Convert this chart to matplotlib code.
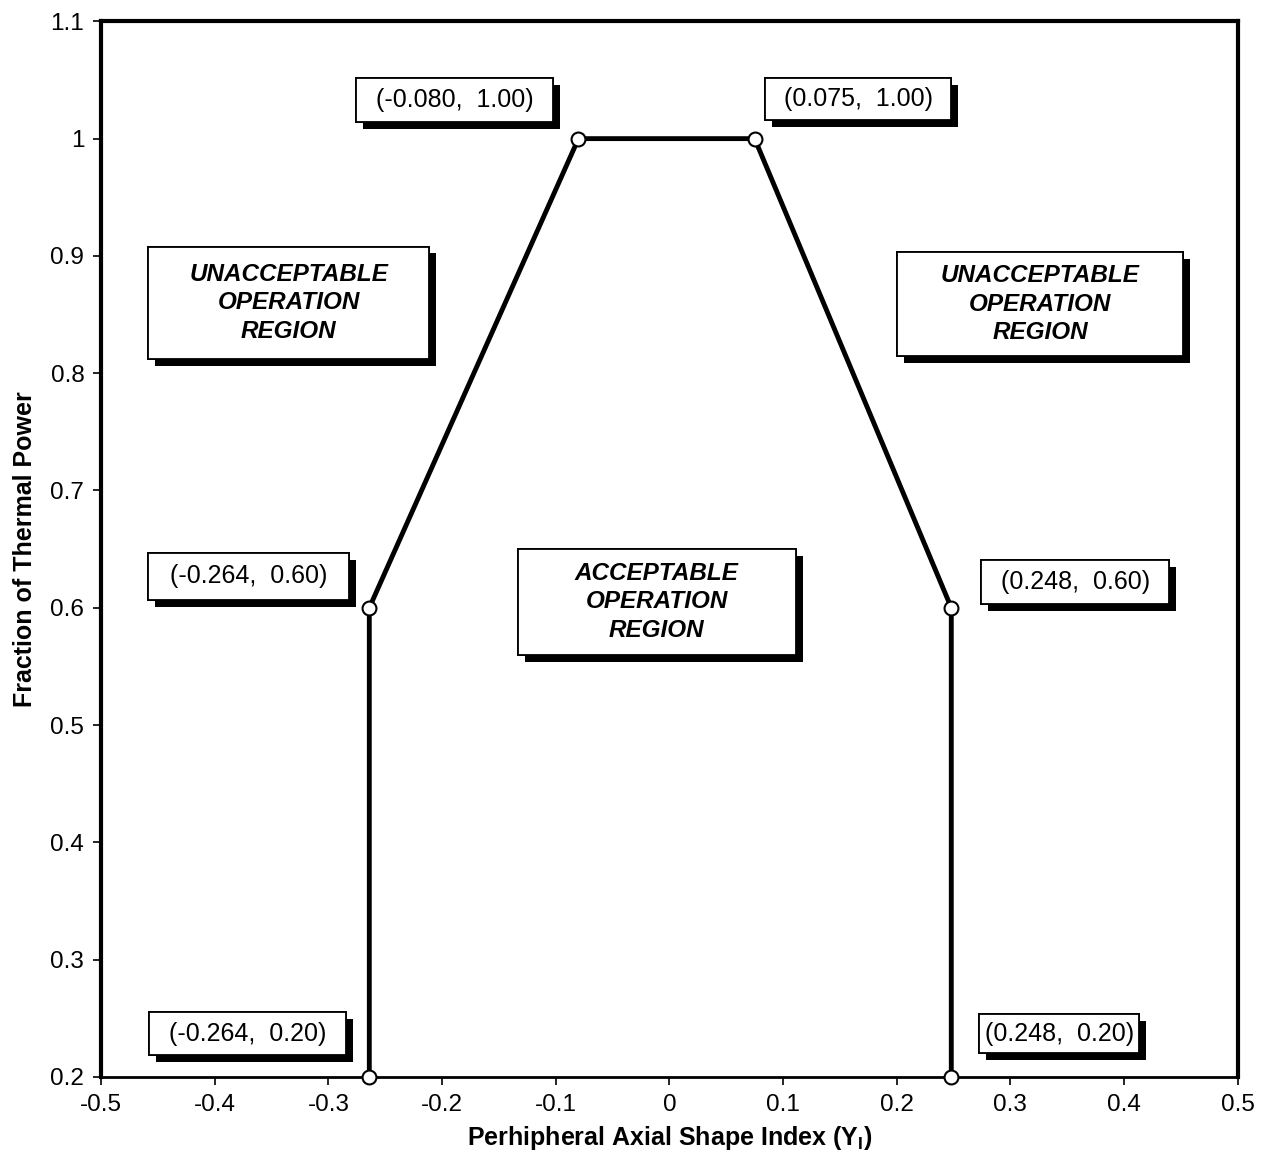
import matplotlib
matplotlib.use('Agg')
import matplotlib.pyplot as plt
import matplotlib.patheffects as pe
from matplotlib.patches import Rectangle

plt.rcParams['font.family'] = ['Liberation Sans', 'DejaVu Sans']

# limit curve vertices
asi = [-0.264, -0.264, -0.080, 0.075, 0.248, 0.248]
power = [0.20, 0.60, 1.00, 1.00, 0.60, 0.20]

xticks = [-0.5, -0.4, -0.3, -0.2, -0.1, 0, 0.1, 0.2, 0.3, 0.4, 0.5]
xticklabels = ['-0.5', '-0.4', '-0.3', '-0.2', '-0.1', '0', '0.1', '0.2', '0.3', '0.4', '0.5']
yticks = [0.2, 0.3, 0.4, 0.5, 0.6, 0.7, 0.8, 0.9, 1.0, 1.1]
yticklabels = ['0.2', '0.3', '0.4', '0.5', '0.6', '0.7', '0.8', '0.9', '1', '1.1']

# label boxes: centre and size (data coords)
pt_label_pos = [(-0.371, 0.237), (-0.370, 0.627), (-0.189, 1.033),
                (0.166, 1.034), (0.357, 0.622), (0.343, 0.237)]
pt_label_size = [(0.173, 0.037), (0.177, 0.040), (0.174, 0.038),
                 (0.163, 0.036), (0.165, 0.038), (0.141, 0.034)]
region_labels = ['UNACCEPTABLE\nOPERATION\nREGION',
                 'ACCEPTABLE\nOPERATION\nREGION',
                 'UNACCEPTABLE\nOPERATION\nREGION']
region_pos = [(-0.335, 0.860), (-0.011, 0.605), (0.326, 0.859)]
region_size = [(0.247, 0.096), (0.245, 0.090), (0.251, 0.088)]

fig = plt.figure(figsize=(12.63, 11.6), dpi=100)
ax = fig.add_axes([0.080, 0.0716, 0.900, 0.910])

ax.plot(asi, power, color='black', linewidth=3.5, marker='o', markersize=10,
        markerfacecolor='white', markeredgecolor='black', markeredgewidth=1.5,
        clip_on=False, zorder=5)

shadow = [pe.withSimplePatchShadow(offset=(5, -5), shadow_rgbFace='black', alpha=1.0), pe.Normal()]


def boxed(cx, cy, w, h):
    r = Rectangle((cx - w / 2, cy - h / 2), w, h, facecolor='white',
                  edgecolor='black', linewidth=1.3, zorder=6, path_effects=shadow)
    ax.add_patch(r)


for (x, y), (lx, ly), (w, h) in zip(zip(asi, power), pt_label_pos, pt_label_size):
    boxed(lx, ly, w, h)
    ax.text(lx, ly, f'({x:.3f},  {y:.2f})', ha='center', va='center', fontsize=18, zorder=7)

for txt, (lx, ly), (w, h) in zip(region_labels, region_pos, region_size):
    boxed(lx, ly, w, h)
    ax.text(lx, ly, txt, ha='center', va='center', fontsize=17.5,
            fontweight='bold', fontstyle='italic', linespacing=1.3, zorder=7)

ax.set_xlim(-0.5, 0.5)
ax.set_ylim(0.2, 1.1)
ax.set_xticks(xticks)
ax.set_xticklabels(xticklabels, fontsize=17.5)
ax.set_yticks(yticks)
ax.set_yticklabels(yticklabels, fontsize=17.5)
ax.tick_params(direction='out', length=6, width=1.2, pad=6)

for side in ['left', 'top', 'right']:
    ax.spines[side].set_linewidth(3)
ax.spines['bottom'].set_linewidth(2)

ax.set_xlabel('Perhipheral Axial Shape Index (Y$_\\mathregular{I}$)', fontsize=18,
              fontweight='bold', labelpad=6)
ax.set_ylabel('Fraction of Thermal Power', fontsize=18, fontweight='bold', labelpad=10)

fig.savefig('out.png', dpi=100)
